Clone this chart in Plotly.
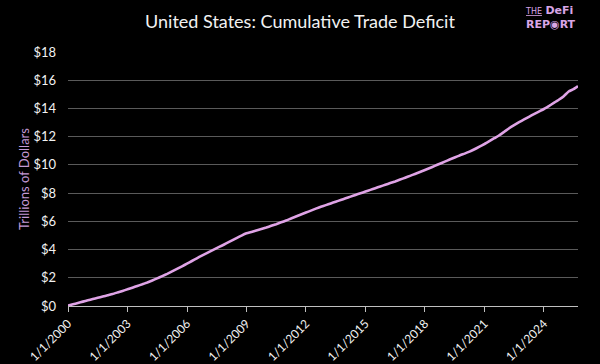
import plotly.graph_objects as go

# Cumulative US trade deficit, trillions of dollars (quarterly)
dates = [
    "2000-01-01", "2000-04-01", "2000-07-01", "2000-10-01",
    "2001-01-01", "2001-04-01", "2001-07-01", "2001-10-01",
    "2002-01-01", "2002-04-01", "2002-07-01", "2002-10-01",
    "2003-01-01", "2003-04-01", "2003-07-01", "2003-10-01",
    "2004-01-01", "2004-04-01", "2004-07-01", "2004-10-01",
    "2005-01-01", "2005-04-01", "2005-07-01", "2005-10-01",
    "2006-01-01", "2006-04-01", "2006-07-01", "2006-10-01",
    "2007-01-01", "2007-04-01", "2007-07-01", "2007-10-01",
    "2008-01-01", "2008-04-01", "2008-07-01", "2008-10-01",
    "2009-01-01", "2009-04-01", "2009-07-01", "2009-10-01",
    "2010-01-01", "2010-04-01", "2010-07-01", "2010-10-01",
    "2011-01-01", "2011-04-01", "2011-07-01", "2011-10-01",
    "2012-01-01", "2012-04-01", "2012-07-01", "2012-10-01",
    "2013-01-01", "2013-04-01", "2013-07-01", "2013-10-01",
    "2014-01-01", "2014-04-01", "2014-07-01", "2014-10-01",
    "2015-01-01", "2015-04-01", "2015-07-01", "2015-10-01",
    "2016-01-01", "2016-04-01", "2016-07-01", "2016-10-01",
    "2017-01-01", "2017-04-01", "2017-07-01", "2017-10-01",
    "2018-01-01", "2018-04-01", "2018-07-01", "2018-10-01",
    "2019-01-01", "2019-04-01", "2019-07-01", "2019-10-01",
    "2020-01-01", "2020-04-01", "2020-07-01", "2020-10-01",
    "2021-01-01", "2021-04-01", "2021-07-01", "2021-10-01",
    "2022-01-01", "2022-04-01", "2022-07-01", "2022-10-01",
    "2023-01-01", "2023-04-01", "2023-07-01", "2023-10-01",
    "2024-01-01", "2024-04-01", "2024-07-01", "2024-10-01",
    "2025-01-01", "2025-04-01", "2025-07-01", "2025-09-20",
]
deficit_trillions = [
    0.03, 0.12, 0.21, 0.31,
    0.40, 0.49, 0.58, 0.67,
    0.76, 0.85, 0.96, 1.07,
    1.18, 1.30, 1.42, 1.54,
    1.67, 1.81, 1.96, 2.12,
    2.28, 2.45, 2.63, 2.81,
    3.00, 3.19, 3.38, 3.57,
    3.75, 3.93, 4.10, 4.27,
    4.45, 4.63, 4.81, 4.99,
    5.15, 5.25, 5.35, 5.45,
    5.56, 5.68, 5.80, 5.93,
    6.06, 6.20, 6.34, 6.48,
    6.62, 6.76, 6.90, 7.03,
    7.15, 7.27, 7.39, 7.51,
    7.63, 7.75, 7.87, 7.99,
    8.11, 8.23, 8.35, 8.47,
    8.59, 8.71, 8.83, 8.96,
    9.09, 9.22, 9.36, 9.50,
    9.64, 9.78, 9.93, 10.08,
    10.23, 10.38, 10.52, 10.67,
    10.80, 10.94, 11.11, 11.29,
    11.48, 11.68, 11.89, 12.10,
    12.35, 12.60, 12.82, 13.03,
    13.22, 13.41, 13.60, 13.78,
    13.96, 14.17, 14.39, 14.62,
    14.87, 15.20, 15.37, 15.58,
]

tick_dates = ["2000-01-01", "2003-01-01", "2006-01-01", "2009-01-01", "2012-01-01",
              "2015-01-01", "2018-01-01", "2021-01-01", "2024-01-01"]
tick_labels = ["1/1/2000", "1/1/2003", "1/1/2006", "1/1/2009", "1/1/2012",
               "1/1/2015", "1/1/2018", "1/1/2021", "1/1/2024"]
y_ticks = [0, 2, 4, 6, 8, 10, 12, 14, 16, 18]
y_labels = ["$" + str(v) for v in y_ticks]

FONT = "Lato, 'Open Sans', sans-serif"

fig = go.Figure()
fig.add_trace(go.Scatter(
    x=dates, y=deficit_trillions, mode="lines",
    line=dict(color="#dfa3e6", width=2.6, shape="spline", smoothing=0.4),
    hoverinfo="skip", showlegend=False,
))

fig.update_layout(
    width=600, height=364,
    paper_bgcolor="#000000", plot_bgcolor="#000000",
    margin=dict(l=68, r=22, t=52, b=58),
    font=dict(family=FONT, color="#ffffff", size=13),
    title=dict(text="United States: Cumulative Trade Deficit", x=0.5, xanchor="center",
               y=0.94, yanchor="middle", font=dict(family=FONT, size=18, color="#f2f2f2")),
    xaxis=dict(
        type="date", range=["2000-01-01", "2025-09-20"], automargin=False,
        tickvals=tick_dates, ticktext=tick_labels, tickangle=-45,
        showgrid=False, zeroline=False,
        showline=True, linecolor="#bfbfbf", linewidth=1,
        ticks="outside", ticklen=5, tickcolor="#bfbfbf",
        tickfont=dict(family=FONT, size=12, color="#f2f2f2"),
    ),
    yaxis=dict(
        range=[0, 18], tickvals=y_ticks, ticktext=y_labels, automargin=False,
        showgrid=True, gridcolor="#5a5a5a", gridwidth=1, zeroline=False,
        ticks="", ticklabelstandoff=11,
        tickfont=dict(family=FONT, size=13, color="#f2f2f2"),
        title=dict(text="Trillions of Dollars", standoff=0,
                   font=dict(family=FONT, size=13, color="#c59ad6")),
    ),
)

fig.add_annotation(
    xref="paper", yref="paper", x=1.0, y=1.135, xanchor="right", yanchor="middle",
    text="<span style='font-size:8px'><u>THE</u></span> <b>DeFi</b><br><b>REP◉RT</b>",
    showarrow=False, align="left",
    font=dict(family="'DejaVu Sans', sans-serif", size=11, color="#d9a6e6"),
)

fig.write_html(
    "out.html",
    config={"displayModeBar": False, "staticPlot": True},
    post_script="document.body.style.margin='0';document.body.style.background='#000';",
)
